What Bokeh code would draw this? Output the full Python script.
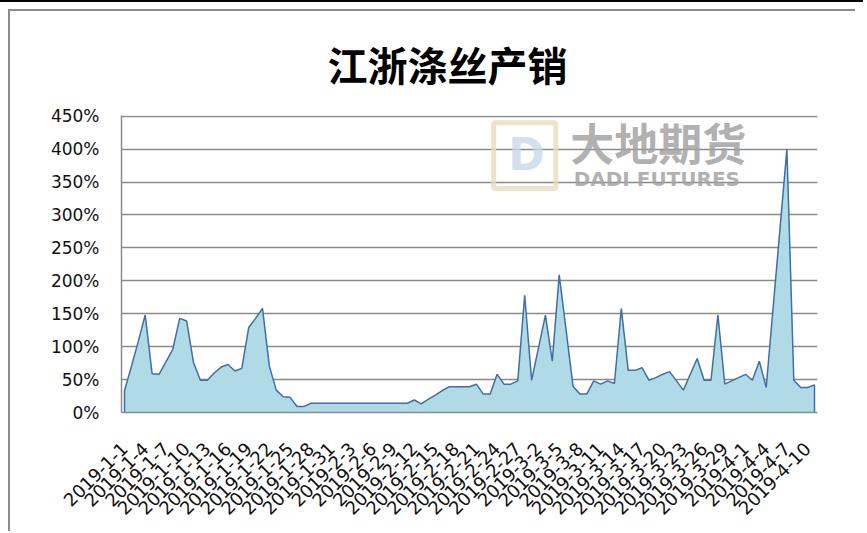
import pandas as pd
from bokeh.plotting import figure
from bokeh.models import FixedTicker, PrintfTickFormatter, Label, BoxAnnotation, Range1d
from bokeh.embed import file_html
from bokeh.resources import INLINE

# ---- data ----
title_text = "江浙涤丝产销"
dates = [f"2019-{d.month}-{d.day}" for d in pd.date_range("2019-01-01", "2019-04-11")]
ratio_pct = [
    33, 70, 108, 148, 59, 58, 77, 96, 143, 139,
    76, 49, 49, 60, 69, 73, 63, 67, 129, 143,
    158, 70, 34, 24, 23, 9, 9, 14, 14, 14,
    14, 14, 14, 14, 14, 14, 14, 14, 14, 14,
    14, 14, 19, 13, 20, 26, 33, 39, 39, 39,
    39, 43, 28, 28, 58, 43, 43, 48, 178, 49,
    98, 148, 78, 209, 125, 40, 28, 28, 48, 43,
    48, 44, 158, 64, 64, 68, 49, 53, 58, 62,
    48, 34, 58, 82, 49, 49, 148, 43, 48, 53,
    58, 49, 78, 38, 159, 279, 400, 49, 38, 38,
    42,
]
x_tick_step = 3
y_ticks = [0, 50, 100, 150, 200, 250, 300, 350, 400, 450]
watermark_cn = "大地期货"
watermark_en = "DADI FUTURES"

xs = list(range(len(dates)))
n = len(xs)

p = figure(width=847, height=522, output_backend="svg", toolbar_location=None,
           x_range=Range1d(-0.435, (n - 1) + 0.435), y_range=Range1d(0, 451),
           min_border_left=111, min_border_right=40, min_border_top=104,
           min_border_bottom=121, background_fill_color="white",
           border_fill_color="white", outline_line_color=None)
p.styles = {
    "margin-left": "8px",
    "margin-top": "9px",
    "border-left": "2px solid #8c8c8c",
    "border-top": "2px solid #8c8c8c",
    "box-shadow": "0 1px 0 8px white, 0 -1px 0 8px black",
}

# area + outline
p.varea(x=xs, y1=[0] * n, y2=ratio_pct, fill_color="#b0dbe6", fill_alpha=1.0)
p.line(x=[xs[0]] + xs + [xs[-1]], y=[0] + ratio_pct + [0],
       line_color="#3e6fa6", line_width=1.5)

# title
p.title.text = title_text
p.title.text_font = "Noto Sans CJK SC"
p.title.text_font_size = "40px"
p.title.text_font_style = "bold"
p.title.text_color = "#000000"
p.title.align = "left"
p.title.vertical_align = "top"
p.title.offset = 206
p.title.standoff = 42

# grid
p.xgrid.visible = False
p.ygrid.grid_line_color = "#8a8a8a"
p.ygrid.grid_line_width = 1.5
p.ygrid.ticker = FixedTicker(ticks=y_ticks)

# y axis
p.yaxis.ticker = FixedTicker(ticks=y_ticks)
p.yaxis.formatter = PrintfTickFormatter(format="%d%%")
p.yaxis.axis_line_color = "#8a8a8a"
p.yaxis.axis_line_width = 1.5
p.yaxis.major_tick_line_color = None
p.yaxis.minor_tick_line_color = None
p.yaxis.major_label_standoff = 16
p.yaxis.major_label_text_font = "DejaVu Sans"
p.yaxis.major_label_text_font_size = "17px"
p.yaxis.major_label_text_color = "#111111"

# x axis
x_ticks = xs[::x_tick_step]
p.xaxis.ticker = FixedTicker(ticks=x_ticks)
p.xaxis.major_label_overrides = {i: dates[i] for i in x_ticks}
p.xaxis.major_label_orientation = 0.785398
p.xaxis.axis_line_color = "#8a8a8a"
p.xaxis.axis_line_width = 1.5
p.xaxis.major_tick_line_color = None
p.xaxis.minor_tick_line_color = None
p.xaxis.major_label_standoff = 27
p.xaxis.major_label_text_font = "DejaVu Sans"
p.xaxis.major_label_text_font_size = "18px"
p.xaxis.major_label_text_color = "#111111"

# watermark (logo)
p.add_layout(BoxAnnotation(left=53.5, right=62.5, bottom=340, top=440,
                           fill_color=None, line_color="#eadcbc", line_width=5,
                           line_alpha=0.8))
p.add_layout(Label(x=55.6, y=392, text="D", text_font="DejaVu Sans",
                   text_font_size="44px", text_font_style="bold",
                   text_color="#c9d8e8", text_alpha=0.8, text_baseline="middle"))
p.add_layout(Label(x=64.6, y=411, text=watermark_cn, text_font="Noto Sans CJK SC",
                   text_font_size="44px", text_font_style="bold",
                   text_color="#a3a3a3", text_alpha=0.85, text_baseline="middle"))
p.add_layout(Label(x=65.1, y=355, text=watermark_en, text_font="DejaVu Sans",
                   text_font_size="20px", text_font_style="bold",
                   text_color="#a3a3a3", text_alpha=0.85, text_baseline="middle"))

open("out.html", "w").write(file_html(p, INLINE))
